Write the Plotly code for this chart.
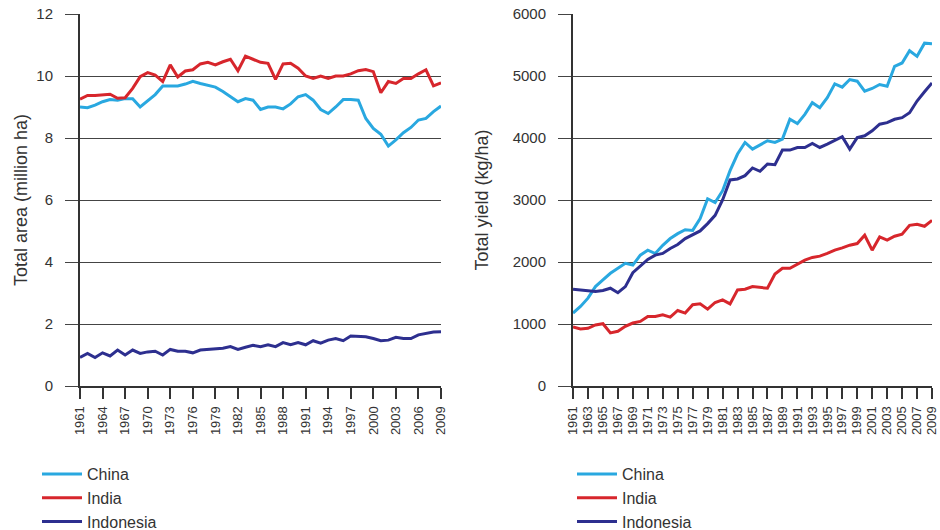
import plotly.graph_objects as go

years = list(range(1961, 2010))

# Total area (million ha)
china_area = [9.00, 8.98, 9.06, 9.17, 9.24, 9.22, 9.27, 9.27, 9.00, 9.20,
              9.40, 9.68, 9.68, 9.68, 9.74, 9.83, 9.76, 9.70, 9.64, 9.50,
              9.33, 9.17, 9.27, 9.22, 8.92, 9.00, 9.00, 8.94, 9.10, 9.33,
              9.40, 9.22, 8.92, 8.79, 9.00, 9.24, 9.24, 9.22, 8.63, 8.31,
              8.12, 7.74, 7.94, 8.17, 8.34, 8.58, 8.63, 8.85, 9.03]
india_area = [9.25, 9.37, 9.37, 9.39, 9.41, 9.28, 9.30, 9.60, 9.98, 10.11,
              10.03, 9.82, 10.36, 9.97, 10.16, 10.20, 10.39, 10.44, 10.36, 10.46,
              10.54, 10.17, 10.64, 10.54, 10.44, 10.41, 9.89, 10.39, 10.41, 10.25,
              10.00, 9.92, 10.00, 9.92, 10.00, 10.00, 10.07, 10.17, 10.21, 10.14,
              9.46, 9.82, 9.76, 9.92, 9.92, 10.07, 10.20, 9.68, 9.78]
indonesia_area = [0.92, 1.05, 0.92, 1.07, 0.97, 1.16, 1.00, 1.16, 1.05, 1.10,
                  1.12, 1.00, 1.18, 1.12, 1.12, 1.07, 1.16, 1.18, 1.18, 1.22,
                  1.27, 1.18, 1.25, 1.31, 1.27, 1.33, 1.27, 1.40, 1.33, 1.40,
                  1.33, 1.46, 1.38, 1.48, 1.53, 1.46, 1.61, 1.61, 1.59, 1.53,
                  1.46, 1.48, 1.57, 1.53, 1.53, 1.65, 1.70, 1.74, 1.75]

# Total yield (kg/ha)
china_yield = [1177, 1283, 1417, 1603, 1710, 1818, 1898, 1978, 1951, 2110,
               2191, 2137, 2270, 2378, 2457, 2520, 2510, 2700, 3020, 2960,
               3150, 3474, 3741, 3928, 3821, 3890, 3955, 3928, 3982, 4302,
               4232, 4382, 4569, 4488, 4649, 4873, 4820, 4943, 4916, 4756,
               4799, 4863, 4836, 5157, 5210, 5408, 5317, 5530, 5520]
india_yield = [952, 920, 930, 984, 1005, 856, 882, 962, 1016, 1042,
               1122, 1122, 1149, 1112, 1218, 1176, 1310, 1325, 1240, 1347,
               1390, 1325, 1550, 1561, 1603, 1590, 1577, 1806, 1898, 1898,
               1967, 2031, 2074, 2095, 2138, 2191, 2228, 2271, 2298, 2432,
               2191, 2405, 2352, 2416, 2448, 2592, 2608, 2576, 2672]
indonesia_yield = [1561, 1550, 1540, 1523, 1540, 1577, 1505, 1603, 1827, 1935,
                   2042, 2111, 2138, 2218, 2282, 2378, 2442, 2501, 2619, 2752,
                   3000, 3324, 3340, 3393, 3517, 3463, 3581, 3570, 3805, 3805,
                   3847, 3847, 3911, 3847, 3900, 3960, 4020, 3821, 4007, 4035,
                   4115, 4222, 4248, 4302, 4328, 4408, 4596, 4745, 4889]

countries = ["China", "India", "Indonesia"]
colors = ["#29a8e0", "#d7262c", "#2d2f8f"]

left_xticks = years[::3]
right_xticks = years[::2]
left_yticks = [0, 2, 4, 6, 8, 10, 12]
right_yticks = [0, 1000, 2000, 3000, 4000, 5000, 6000]

W, H = 940, 530
fig = go.Figure()

area_series = [china_area, india_area, indonesia_area]
yield_series = [china_yield, india_yield, indonesia_yield]

for name, col, vals in zip(countries, colors, area_series):
    fig.add_trace(go.Scatter(x=years, y=vals, mode="lines", name=name,
                             line=dict(color=col, width=3),
                             xaxis="x", yaxis="y", legend="legend"))
for name, col, vals in zip(countries, colors, yield_series):
    fig.add_trace(go.Scatter(x=years, y=vals, mode="lines", name=name,
                             line=dict(color=col, width=3),
                             xaxis="x2", yaxis="y2", legend="legend2"))

base = "Liberation Sans, Arial, sans-serif"
tick_font = dict(family=base, size=15, color="#333333")
xtick_font = dict(family=base, size=13, color="#333333")
title_font = dict(family=base, size=18, color="#333333")
legend_font = dict(family="Liberation Sans Narrow, Arial Narrow, Liberation Sans, sans-serif",
                   size=16, color="#333333")

def px_x(p):
    return p / W

def px_y(p):
    return 1 - p / H

ydom = [px_y(386), px_y(14)]

def xaxis_cfg(dom, ticks, anchor):
    return dict(domain=dom, range=[1961, 2009], tickmode="array",
                tickvals=ticks, ticktext=[str(t) for t in ticks],
                tickangle=-90, ticks="outside", ticklen=11, tickwidth=1.5,
                tickcolor="#333333", showline=True, linecolor="#333333",
                linewidth=2, showgrid=False, zeroline=False,
                tickfont=xtick_font, ticklabelstandoff=2,
                ticklabeloverflow="allow",
                anchor=anchor, automargin=False)

def yaxis_cfg(ticks, rng, title, anchor, standoff):
    return dict(domain=ydom, range=rng, tickmode="array", tickvals=ticks,
                ticks="outside", ticklen=13, tickwidth=1.3, tickcolor="#444444",
                showline=True, linecolor="#333333", linewidth=2,
                showgrid=True, gridcolor="#444444", gridwidth=1.3,
                zeroline=False, tickfont=tick_font, ticklabelstandoff=9,
                ticklabeloverflow="allow",
                title=dict(text=title, font=title_font, standoff=standoff),
                anchor=anchor, automargin=False)

fig.update_layout(
    template="none",
    width=W, height=H,
    margin=dict(l=0, r=0, t=0, b=0, autoexpand=False),
    paper_bgcolor="white", plot_bgcolor="white",
    hovermode=False,
    xaxis=xaxis_cfg([px_x(80), px_x(441)], left_xticks, "y"),
    xaxis2=xaxis_cfg([px_x(573), px_x(932)], right_xticks, "y2"),
    yaxis=yaxis_cfg(left_yticks, [0, 12], "Total area (million ha)", "x", 4),
    yaxis2=yaxis_cfg(right_yticks, [0, 6000], "Total yield (kg/ha)", "x2", 19),
    legend=dict(x=px_x(37), y=px_y(457), xanchor="left", yanchor="top",
                font=legend_font, bgcolor="rgba(0,0,0,0)", tracegroupgap=0,
                borderwidth=0, itemwidth=40, itemclick=False),
    legend2=dict(x=px_x(572), y=px_y(457), xanchor="left", yanchor="top",
                 font=legend_font, bgcolor="rgba(0,0,0,0)", tracegroupgap=0,
                 borderwidth=0, itemwidth=40, itemclick=False),
    showlegend=True,
)

# remove the browser's default 8px page margin so the figure sits at (0, 0)
fig.write_html("out.html",
               config={"displayModeBar": False},
               post_script="document.body.style.margin='0px';")
